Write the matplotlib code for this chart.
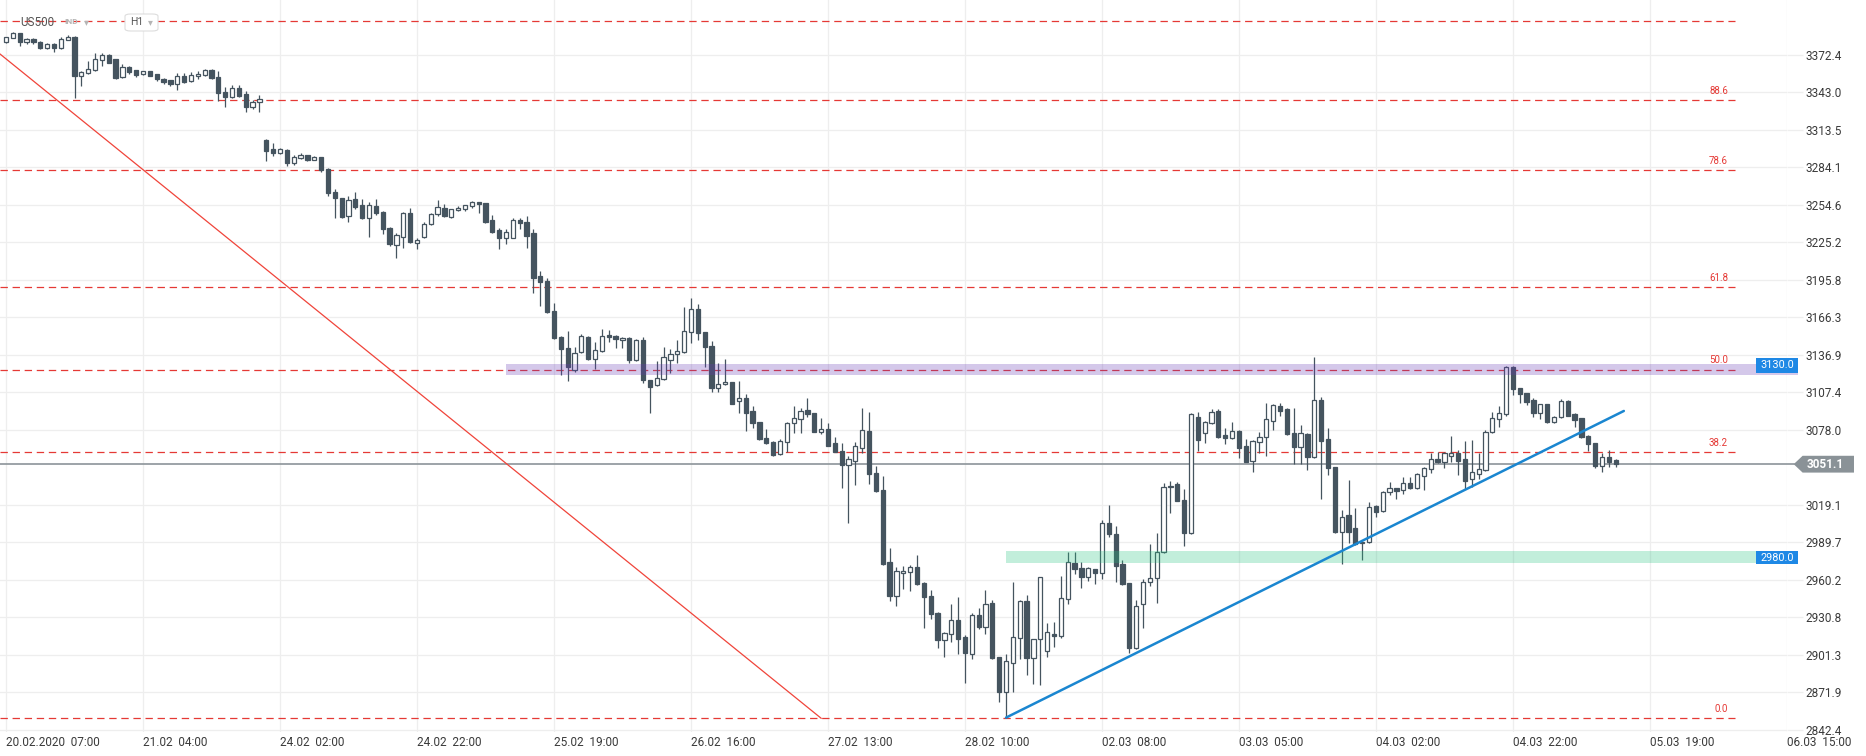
import numpy as np
import matplotlib
matplotlib.use('Agg')
import matplotlib.pyplot as plt
from matplotlib.patches import Polygon, Rectangle, FancyBboxPatch

plt.rcParams['font.family'] = ['Roboto', 'DejaVu Sans']
plt.rcParams['lines.scale_dashes'] = False

# ── OHLC (H1 bars) ─────────────────────────────────────
opens = [
    3382.4, 3385.5, 3389.5, 3382.4, 3384.7, 3382.9, 3377.7, 3381.1, 3377.7, 3384.2,
    3386.5, 3356.2, 3358.0, 3360.4, 3368.3, 3372.4, 3369.0, 3354.9, 3362.8, 3360.4,
    3357.5, 3359.6, 3357.3, 3353.6, 3352.5, 3349.4, 3355.7, 3351.8, 3355.7, 3356.5,
    3360.4, 3354.9, 3343.4, 3339.7, 3346.5, 3341.8, 3331.6, 3335.3, 3305.7, 3298.4,
    3295.2, 3297.8, 3287.4, 3291.5, 3293.7, 3290.0, 3292.3, 3282.9, 3265.0, 3259.9,
    3246.2, 3259.3, 3254.6, 3244.7, 3253.8, 3249.1, 3236.3, 3223.2, 3229.3, 3248.1,
    3224.6, 3229.7, 3239.5, 3247.3, 3252.0, 3245.4, 3250.9, 3251.3, 3253.8, 3256.8,
    3256.0, 3242.9, 3235.0, 3229.0, 3229.0, 3242.9, 3241.3, 3232.4, 3198.9, 3195.2,
    3171.4, 3151.2, 3142.4, 3125.1, 3139.0, 3151.2, 3133.7, 3140.0, 3152.3, 3152.0,
    3148.4, 3150.4, 3132.9, 3148.6, 3117.2, 3113.1, 3117.8, 3132.9, 3137.6, 3139.0,
    3154.7, 3172.7, 3154.7, 3143.9, 3110.7, 3113.8, 3115.4, 3101.1, 3102.9, 3092.9,
    3084.0, 3071.4, 3068.3, 3059.1, 3068.5, 3083.2, 3086.4, 3093.7, 3091.1, 3076.2,
    3078.5, 3067.5, 3061.5, 3050.5, 3053.9, 3063.6, 3077.2, 3044.0, 3030.8, 2974.1,
    2947.9, 2965.9, 2966.7, 2970.2, 2958.1, 2947.6, 2934.5, 2913.1, 2917.6, 2928.8,
    2915.2, 2901.9, 2932.5, 2923.1, 2941.9, 2899.5, 2872.5, 2895.2, 2914.4, 2943.7,
    2898.7, 2913.6, 2904.4, 2917.7, 2915.8, 2945.0, 2973.8, 2969.4, 2962.8, 2968.6,
    2965.5, 3004.7, 2996.3, 2972.8, 2957.6, 2907.0, 2941.1, 2958.9, 2961.5, 2981.9,
    3033.0, 3035.6, 3023.0, 2997.3, 3087.9, 3075.8, 3083.2, 3092.9, 3074.0, 3071.5,
    3077.2, 3065.4, 3053.6, 3068.3, 3072.2, 3085.3, 3096.8, 3094.5, 3075.8, 3064.8,
    3074.8, 3056.5, 3101.5, 3070.9, 3048.7, 2998.1, 3011.2, 3000.8, 2989.2, 2989.8,
    3018.3, 3014.4, 3029.0, 3032.1, 3030.8, 3036.1, 3032.2, 3042.1, 3047.1, 3055.0,
    3052.6, 3057.8, 3059.7, 3055.2, 3039.3, 3043.4, 3046.6, 3076.2, 3086.4, 3090.5,
    3127.2, 3110.7, 3106.8, 3101.5, 3091.1, 3098.1, 3084.0, 3087.9, 3100.7, 3090.5,
    3087.1, 3073.3, 3067.5, 3049.9, 3056.5, 3054.4,
]
highs = [
    3386.5, 3390.2, 3389.8, 3385.5, 3385.5, 3383.3, 3381.5, 3381.5, 3386.8, 3388.1,
    3387.0, 3359.5, 3367.7, 3373.7, 3373.7, 3373.0, 3369.5, 3365.3, 3363.8, 3360.8,
    3360.0, 3360.0, 3357.7, 3354.6, 3353.0, 3358.0, 3358.0, 3359.1, 3359.6, 3361.2,
    3361.2, 3360.1, 3347.1, 3348.9, 3348.9, 3344.1, 3337.3, 3340.8, 3306.5, 3303.1,
    3299.0, 3298.3, 3293.9, 3295.2, 3294.0, 3293.0, 3292.6, 3283.4, 3267.0, 3260.5,
    3261.7, 3264.6, 3259.1, 3256.8, 3259.3, 3250.0, 3237.0, 3232.9, 3248.8, 3252.5,
    3229.0, 3241.1, 3248.1, 3258.6, 3255.2, 3251.8, 3253.8, 3255.0, 3257.8, 3257.2,
    3256.5, 3246.8, 3236.8, 3235.8, 3244.2, 3244.7, 3246.2, 3235.8, 3202.8, 3197.1,
    3177.4, 3151.7, 3155.7, 3143.4, 3153.1, 3151.8, 3147.1, 3157.0, 3156.5, 3152.5,
    3151.2, 3151.0, 3149.5, 3151.2, 3117.5, 3132.1, 3143.4, 3141.3, 3148.6, 3174.8,
    3181.4, 3176.7, 3155.0, 3147.9, 3130.3, 3133.7, 3116.0, 3116.4, 3106.0, 3096.8,
    3084.5, 3078.5, 3069.6, 3070.7, 3084.0, 3096.8, 3095.0, 3102.9, 3091.5, 3087.6,
    3083.2, 3072.7, 3067.5, 3057.6, 3068.3, 3095.5, 3092.1, 3049.7, 3041.9, 2985.1,
    2970.2, 2971.2, 2972.0, 2979.8, 2958.9, 2952.3, 2935.0, 2919.0, 2941.1, 2946.8,
    2917.0, 2934.0, 2938.5, 2952.3, 2944.5, 2900.0, 2901.9, 2958.9, 2944.5, 2948.4,
    2914.0, 2962.8, 2926.7, 2927.4, 2963.3, 2981.9, 2981.9, 2974.1, 2970.6, 2969.0,
    3007.3, 3019.1, 3002.8, 2975.9, 2958.0, 2944.5, 2960.7, 2988.5, 2996.8, 3036.6,
    3037.9, 3036.9, 3031.6, 3091.0, 3091.9, 3085.0, 3094.2, 3094.2, 3079.8, 3084.0,
    3077.7, 3070.7, 3070.0, 3076.2, 3099.0, 3098.0, 3099.0, 3095.0, 3095.0, 3081.9,
    3075.3, 3135.5, 3104.1, 3079.3, 3049.2, 3015.1, 3038.7, 3017.0, 2990.2, 3021.2,
    3019.0, 3030.0, 3036.9, 3032.5, 3040.8, 3041.3, 3044.4, 3049.2, 3060.1, 3060.5,
    3060.9, 3073.3, 3062.3, 3069.6, 3070.1, 3060.1, 3078.0, 3092.3, 3097.0, 3128.2,
    3128.5, 3111.0, 3107.2, 3102.9, 3098.5, 3098.5, 3088.9, 3102.3, 3101.5, 3091.0,
    3087.5, 3073.8, 3068.0, 3060.1, 3062.3, 3054.8,
]
lows = [
    3381.8, 3385.4, 3379.7, 3381.3, 3380.8, 3377.3, 3377.3, 3375.0, 3377.3, 3384.0,
    3338.9, 3348.1, 3357.5, 3360.0, 3363.8, 3366.0, 3353.5, 3354.5, 3357.7, 3354.9,
    3357.0, 3355.8, 3352.0, 3349.4, 3348.1, 3344.9, 3350.2, 3351.3, 3353.8, 3356.0,
    3353.7, 3336.3, 3331.8, 3338.6, 3339.2, 3327.9, 3330.3, 3327.9, 3289.4, 3293.1,
    3294.8, 3285.5, 3285.8, 3291.0, 3289.3, 3289.6, 3280.8, 3261.7, 3244.2, 3244.4,
    3241.5, 3251.3, 3244.0, 3229.7, 3247.0, 3231.6, 3222.7, 3213.3, 3221.1, 3224.7,
    3219.9, 3228.5, 3239.0, 3246.0, 3245.5, 3244.4, 3250.3, 3250.2, 3252.0, 3248.1,
    3240.7, 3233.0, 3219.9, 3224.0, 3228.5, 3235.6, 3221.1, 3185.3, 3175.6, 3170.1,
    3149.5, 3121.2, 3116.7, 3123.7, 3138.5, 3133.0, 3125.9, 3139.5, 3147.3, 3142.6,
    3142.1, 3130.8, 3132.0, 3115.1, 3091.1, 3112.5, 3117.0, 3122.5, 3130.8, 3138.5,
    3146.5, 3148.6, 3127.2, 3107.6, 3107.6, 3113.0, 3098.0, 3091.5, 3077.4, 3079.8,
    3070.0, 3066.7, 3057.5, 3058.5, 3060.9, 3075.8, 3075.8, 3088.4, 3076.0, 3074.8,
    3065.0, 3060.5, 3032.7, 3005.2, 3034.8, 3060.1, 3035.6, 3029.3, 2972.0, 2944.0,
    2940.0, 2953.1, 2951.5, 2956.0, 2922.7, 2929.3, 2907.0, 2899.9, 2911.7, 2901.9,
    2879.1, 2897.9, 2922.0, 2917.6, 2898.0, 2864.6, 2852.1, 2872.5, 2897.9, 2885.6,
    2878.3, 2877.8, 2899.5, 2907.8, 2915.0, 2941.1, 2964.7, 2954.1, 2959.4, 2957.0,
    2961.0, 2994.2, 2958.9, 2956.0, 2903.1, 2906.0, 2922.3, 2955.7, 2941.9, 2981.4,
    3012.6, 3022.0, 2987.1, 2996.5, 3061.7, 3067.5, 3082.4, 3072.0, 3066.7, 3071.0,
    3055.7, 3052.5, 3045.2, 3059.7, 3057.6, 3078.0, 3088.9, 3074.0, 3051.0, 3051.0,
    3046.6, 3056.0, 3023.6, 3042.6, 2996.8, 2972.7, 2989.0, 2987.7, 2975.9, 2989.0,
    3009.9, 3013.8, 3026.9, 3023.6, 3027.7, 3031.5, 3031.5, 3030.8, 3044.0, 3051.9,
    3048.4, 3053.1, 3042.6, 3031.4, 3033.4, 3039.3, 3046.0, 3075.6, 3080.1, 3088.9,
    3105.4, 3098.9, 3097.6, 3087.9, 3086.6, 3083.5, 3083.5, 3087.5, 3088.8, 3080.1,
    3072.0, 3061.7, 3048.4, 3045.2, 3049.2, 3049.2,
]
closes = [
    3386.3, 3389.5, 3382.4, 3384.7, 3382.4, 3377.7, 3381.1, 3377.7, 3384.7, 3386.5,
    3355.9, 3359.1, 3361.4, 3369.0, 3372.4, 3366.4, 3354.4, 3362.8, 3359.3, 3357.0,
    3359.6, 3356.2, 3353.3, 3351.4, 3349.4, 3355.7, 3351.2, 3356.7, 3357.7, 3360.4,
    3354.1, 3342.3, 3339.2, 3346.5, 3340.5, 3331.4, 3335.7, 3337.6, 3297.3, 3295.2,
    3298.4, 3287.8, 3292.6, 3293.9, 3289.7, 3292.6, 3282.1, 3263.8, 3259.9, 3245.4,
    3258.6, 3253.3, 3244.7, 3254.6, 3248.1, 3235.6, 3223.8, 3231.1, 3248.1, 3225.4,
    3227.2, 3239.5, 3247.3, 3252.8, 3246.2, 3251.3, 3252.5, 3254.4, 3257.2, 3255.2,
    3241.5, 3233.7, 3229.0, 3233.2, 3242.9, 3240.3, 3230.5, 3197.5, 3193.9, 3170.9,
    3150.0, 3141.3, 3127.2, 3138.2, 3152.0, 3133.5, 3140.8, 3152.0, 3150.8, 3149.2,
    3150.2, 3132.9, 3148.6, 3117.2, 3112.0, 3118.6, 3135.1, 3137.6, 3140.0, 3155.7,
    3172.7, 3153.9, 3143.4, 3110.7, 3113.8, 3115.4, 3098.4, 3102.9, 3091.1, 3083.2,
    3070.7, 3067.5, 3058.1, 3069.6, 3083.2, 3087.1, 3093.1, 3090.3, 3076.2, 3078.5,
    3065.6, 3060.9, 3050.5, 3055.2, 3065.4, 3078.0, 3043.4, 3030.1, 2972.5, 2947.9,
    2967.3, 2967.5, 2970.2, 2956.8, 2947.1, 2933.3, 2913.1, 2918.3, 2928.8, 2913.6,
    2903.1, 2932.5, 2923.5, 2941.1, 2898.7, 2872.5, 2896.8, 2915.2, 2943.9, 2898.7,
    2913.6, 2962.3, 2919.1, 2915.8, 2945.8, 2974.5, 2968.6, 2962.8, 2969.4, 2965.5,
    3004.7, 2996.1, 2971.4, 2956.8, 2907.0, 2940.0, 2958.9, 2962.0, 2981.9, 3033.4,
    3034.2, 3022.5, 2997.3, 3090.5, 3070.1, 3084.5, 3092.3, 3072.7, 3071.9, 3077.2,
    3064.1, 3053.1, 3069.6, 3072.7, 3086.4, 3097.6, 3093.1, 3074.8, 3064.8, 3075.8,
    3056.5, 3101.5, 3069.6, 3047.9, 2997.6, 3009.9, 2998.1, 2988.5, 2990.0, 3017.7,
    3013.8, 3029.5, 3032.1, 3030.3, 3036.1, 3032.2, 3043.2, 3047.9, 3055.0, 3053.1,
    3059.7, 3059.7, 3053.9, 3038.2, 3044.8, 3047.1, 3076.6, 3087.1, 3091.1, 3127.2,
    3109.9, 3106.0, 3100.2, 3091.1, 3098.1, 3084.0, 3087.9, 3100.7, 3089.2, 3085.8,
    3072.7, 3067.0, 3049.9, 3056.5, 3053.1, 3051.1,
]

# ── Axis labels ─────────────────────────────────────────
x_tick_pos = [0, 20, 40, 60, 80, 100, 120, 140, 160, 180, 200, 220, 240, 260]
x_tick_labels = ['20.02.2020  07:00', '21.02  04:00', '24.02  02:00', '24.02  22:00',
                 '25.02  19:00', '26.02  16:00', '27.02  13:00', '28.02  10:00',
                 '02.03  08:00', '03.03  05:00', '04.03  02:00', '04.03  22:00',
                 '05.03  19:00', '06.03  15:00']
y_ticks = [2842.4, 2871.9, 2901.3, 2930.8, 2960.2, 2989.7, 3019.1, 3078.0, 3107.4,
           3136.9, 3166.3, 3195.8, 3225.2, 3254.6, 3284.1, 3313.5, 3343.0, 3372.4]

# ── Drawings ────────────────────────────────────────────
fib_low, fib_high = 2851.6, 3399.1
fib_ratios = [0.0, 0.382, 0.5, 0.618, 0.786, 0.886, 1.0]
fib_names = ['0.0', '38.2', '50.0', '61.8', '78.6', '88.6', '']
zone_prices = [3130.0, 2980.0]
zone_bounds = [(3121.4, 3129.8), (2973.8, 2983.0)]
zone_start = [73, 146]
zone_colors = ['#673ab7', '#26c281']
last_price = 3051.1
red_line = ([-0.88, 119.0], [3373.2, 2851.6])
blue_line = ([146, 236.2], [2852.1, 3092.9])

CANDLE = '#45545f'
FIB_RED = '#e53935'
GRID = '#eeeeee'

fig = plt.figure(figsize=(18.66, 7.56), dpi=100)
ax = fig.add_axes([0, 1 - 732 / 756, 1787 / 1866, 732 / 756])
ax.set_xlim(-0.88, 260.02)
ax.set_ylim(2840.8, 3415.6)
for s in ax.spines.values():
    s.set_visible(False)

# grid + ticks
ax.set_axisbelow(True)
ax.set_xticks(x_tick_pos)
ax.set_xticklabels(x_tick_labels)
for lbl in ax.get_xticklabels():
    lbl.set_ha('left')
ax.set_yticks(y_ticks)
ax.set_yticklabels([f'{v:.1f}' for v in y_ticks])
ax.yaxis.tick_right()
ax.grid(True, color=GRID, lw=0.9)
ax.tick_params(axis='y', length=11.5, width=0.9, color=GRID, pad=2,
               labelsize=8.5, labelcolor='#3a3a3a')
ax.tick_params(axis='x', length=0, pad=3, labelsize=8.5, labelcolor='#3a3a3a')

# fibonacci levels
for r, name in zip(fib_ratios, fib_names):
    lvl = fib_low + r * (fib_high - fib_low)
    ax.plot([-0.88, 252.4], [lvl, lvl], color=FIB_RED, lw=0.9,
            dashes=(5.3, 3.4), zorder=1)
    if name:
        ax.annotate(name, (251.4, lvl), xytext=(0, 3), textcoords='offset points',
                    ha='right', va='bottom', color=FIB_RED, fontsize=7)

# last price line
ax.plot([-0.88, 261.0], [last_price, last_price], color='#8c9499', lw=1.2,
        zorder=1.5, clip_on=False)

# candles
o = np.array(opens)
h = np.array(highs)
l = np.array(lows)
c = np.array(closes)
x = np.arange(len(o))
up = c >= o
ax.vlines(x, l, h, color=CANDLE, lw=0.9, zorder=2)
bot = np.minimum(o, c)
hgt = np.maximum(np.abs(c - o), 0.4)
ax.bar(x[up], hgt[up], bottom=bot[up], width=0.62, facecolor='white',
       edgecolor=CANDLE, lw=0.9, zorder=3)
ax.bar(x[~up], hgt[~up], bottom=bot[~up], width=0.62, facecolor=CANDLE,
       edgecolor=CANDLE, lw=0.9, zorder=3)

# zones + labels
for (lo, hi), x0, col, p in zip(zone_bounds, zone_start, zone_colors, zone_prices):
    ax.add_patch(Rectangle((x0, lo), 261.6 - x0, hi - lo, facecolor=col, alpha=0.28,
                           edgecolor='none', zorder=4, clip_on=False))
boxes = [(3123.0, 3134.3), (2972.5, 2983.0)]
for (lo, hi), p in zip(boxes, zone_prices):
    ax.add_patch(Rectangle((255.5, lo), 6.1, hi - lo, facecolor='#1e88e5',
                           edgecolor='none', zorder=6, clip_on=False))
    ax.text(258.55, (lo + hi) / 2, f'{p:.1f}', color='white', fontsize=7.8,
            ha='center', va='center', zorder=7, clip_on=False)

# trend lines
ax.plot(*red_line, color='#f0443a', lw=0.9, zorder=5)
ax.plot(*blue_line, color='#1a86d0', lw=1.8, zorder=5, solid_capstyle='round')

# last price tag
tag = Polygon([(261.0, last_price), (262.3, last_price + 6.6), (269.8, last_price + 6.6),
               (269.8, last_price - 6.6), (262.3, last_price - 6.6)],
              closed=True, facecolor='#8a9297', edgecolor='none', zorder=6,
              clip_on=False)
ax.add_patch(tag)
ax.text(265.6, last_price, f'{last_price:.1f}', color='white', fontsize=8.5,
        fontweight='bold', ha='center', va='center', zorder=7, clip_on=False)

# header
fig.text(20 / 1866, 1 - 22 / 756, 'US500', fontsize=8.5, color='#555555',
         va='center', ha='left')
fig.text(64 / 1866, 1 - 22 / 756, 'IND', fontsize=6, color='#b5b5b5',
         fontweight='bold', va='center', ha='left')
fig.text(84 / 1866, 1 - 22 / 756, '▾', fontsize=7, color='#b5b5b5',
         va='center', ha='left')
fig.patches.append(FancyBboxPatch((125 / 1866, 1 - 31 / 756), 33 / 1866, 17 / 756,
                                  boxstyle='round,pad=0,rounding_size=0.003',
                                  transform=fig.transFigure, facecolor='white',
                                  edgecolor='#dddddd', lw=0.8, zorder=8))
fig.text(130 / 1866, 1 - 22 / 756, 'H1', fontsize=7.5, color='#555555',
         va='center', ha='left', zorder=9)
fig.text(148 / 1866, 1 - 22 / 756, '▾', fontsize=7, color='#b5b5b5',
         va='center', ha='left', zorder=9)

fig.savefig('out.png', dpi=100, facecolor='white')
